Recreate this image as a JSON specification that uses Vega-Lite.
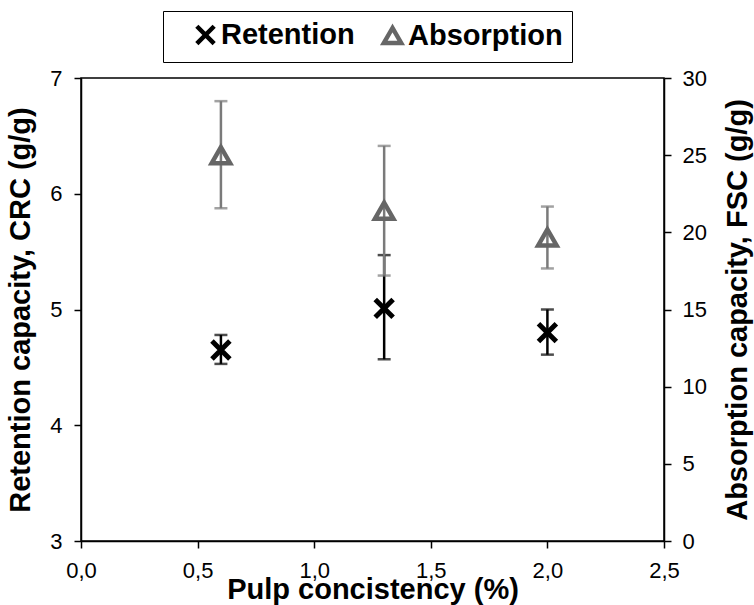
{
  "$schema": "https://vega.github.io/schema/vega-lite/v6.json",
  "autosize": {"type": "none"},
  "width": 583,
  "height": 463,
  "padding": {"left": 81, "top": 78, "right": 90, "bottom": 64},
  "background": "white",
  "config": {
    "view": {"stroke": "black", "strokeWidth": 1.5},
    "font": "Liberation Sans",
    "axis": {
      "grid": false,
      "domainColor": "black",
      "domainWidth": 1.5,
      "tickColor": "black",
      "tickWidth": 1.5,
      "tickSize": 7,
      "labelFont": "Liberation Sans",
      "labelFontSize": 22,
      "labelColor": "black",
      "titleFont": "Liberation Sans",
      "titleFontSize": 29,
      "titleFontWeight": "bold",
      "titleColor": "black"
    }
  },
  "datasets": {
    "ret": [
      {"c": 0.6, "series": "Retention", "v": 4.65, "lo": 4.53, "hi": 4.78},
      {"c": 1.3, "series": "Retention", "v": 5.01, "lo": 4.57, "hi": 5.47},
      {"c": 2.0, "series": "Retention", "v": 4.80, "lo": 4.61, "hi": 5.00}
    ],
    "abs": [
      {"c": 0.6, "series": "Absorption", "v": 25.0, "lo": 21.56, "hi": 28.5},
      {"c": 1.3, "series": "Absorption", "v": 21.4, "lo": 17.2, "hi": 25.6},
      {"c": 2.0, "series": "Absorption", "v": 19.67, "lo": 17.66, "hi": 21.67}
    ]
  },
  "encoding": {
    "x": {
      "field": "c",
      "type": "quantitative",
      "title": "Pulp concistency (%)",
      "scale": {"domain": [0, 2.5], "nice": false},
      "axis": {
        "values": [0, 0.5, 1, 1.5, 2, 2.5],
        "labelExpr": "replace(format(datum.value, '.1f'), '.', ',')",
        "labelPadding": 12,
        "titlePadding": -6,
        "labelFlush": false
      }
    }
  },
  "layer": [
    {
      "data": {"name": "ret"},
      "layer": [
        {
          "mark": {"type": "errorbar", "color": "black", "thickness": 2.5, "ticks": {"size": 13, "thickness": 2.5}},
          "encoding": {
            "y": {
              "field": "lo",
              "type": "quantitative",
              "title": "Retention capacity, CRC (g/g)",
              "scale": {"domain": [3, 7], "nice": false, "zero": false},
              "axis": {"orient": "left", "values": [3, 4, 5, 6, 7], "format": "d", "labelPadding": 12, "titlePadding": 14}
            },
            "y2": {"field": "hi"}
          }
        },
        {
          "mark": {"type": "point", "filled": false, "strokeWidth": 5, "size": 320, "opacity": 1},
          "encoding": {
            "y": {"field": "v", "type": "quantitative"},
            "color": {
              "field": "series",
              "type": "nominal",
              "scale": {"domain": ["Retention", "Absorption"], "range": ["#000000", "#666666"]},
              "legend": {
                "orient": "none",
                "legendX": 82,
                "legendY": -67,
                "direction": "horizontal",
                "title": null,
                "strokeColor": "black",
                "padding": 9,
                "symbolOffset": 19,
                "labelFont": "Liberation Sans",
                "labelFontSize": 29,
                "labelFontWeight": "bold",
                "labelColor": "black",
                "labelOffset": 1,
                "labelLimit": 400,
                "columnPadding": 4,
                "symbolSize": 300,
                "symbolStrokeWidth": 4.5,
                "labelExpr": "datum.label == 'Absorption' ? 'Absorption    ' : datum.label"
              }
            },
            "shape": {
              "field": "series",
              "type": "nominal",
              "scale": {"domain": ["Retention", "Absorption"], "range": ["M-1,-1L1,1M1,-1L-1,1", "triangle-up"]}
            }
          }
        }
      ]
    },
    {
      "data": {"name": "abs"},
      "layer": [
        {
          "mark": {"type": "errorbar", "color": "#7a7a7a", "thickness": 2.5, "ticks": {"size": 13, "thickness": 2.5}},
          "encoding": {
            "y": {
              "field": "lo",
              "type": "quantitative",
              "title": "Absorption capacity, FSC (g/g)",
              "scale": {"domain": [0, 30], "nice": false},
              "axis": {"orient": "right", "values": [0, 5, 10, 15, 20, 25, 30], "labelPadding": 11, "titlePadding": 46, "titleAngle": 270}
            },
            "y2": {"field": "hi"}
          }
        },
        {
          "mark": {"type": "point", "filled": false, "strokeWidth": 4.5, "size": 340, "opacity": 1},
          "encoding": {
            "y": {"field": "v", "type": "quantitative"},
            "color": {"field": "series", "type": "nominal"},
            "shape": {"field": "series", "type": "nominal"}
          }
        }
      ]
    }
  ],
  "resolve": {"scale": {"y": "independent"}}
}
